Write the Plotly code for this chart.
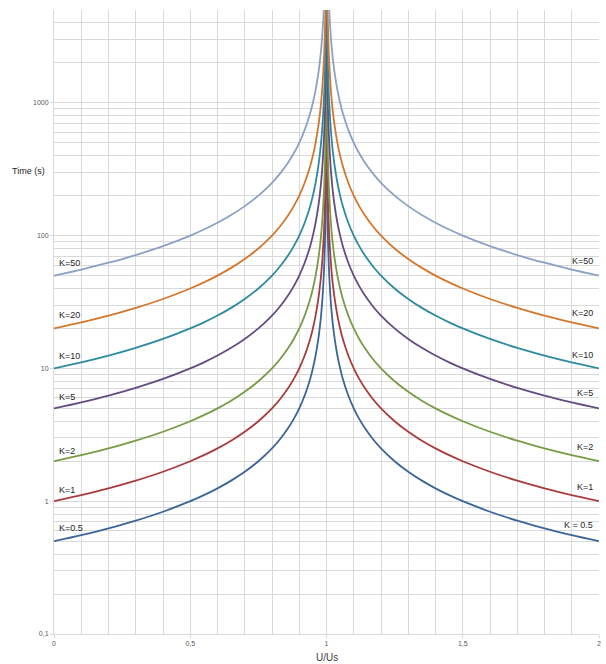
import plotly.graph_objects as go

# U/Us sample positions (left of the asymptote and right of it)
u_left = [0, 0.1, 0.2, 0.3, 0.4, 0.5, 0.55, 0.6, 0.65, 0.7, 0.75, 0.8, 0.83, 0.86, 0.88,
          0.9, 0.92, 0.94, 0.95, 0.96, 0.97, 0.975, 0.98, 0.985, 0.99, 0.993, 0.995,
          0.997, 0.998, 0.999, 0.9995, 0.9999]
u_right = [1.0001, 1.0005, 1.001, 1.002, 1.003, 1.005, 1.007, 1.01, 1.015, 1.02, 1.025,
           1.03, 1.04, 1.05, 1.06, 1.08, 1.1, 1.12, 1.14, 1.17, 1.2, 1.25, 1.3, 1.35,
           1.4, 1.45, 1.5, 1.6, 1.7, 1.8, 1.9, 2.0]

# Time (s) read for each curve on the left branch (the right branch mirrors it)
t_k05 = [0.5, 0.556, 0.625, 0.714, 0.833, 1, 1.111, 1.25, 1.429, 1.667, 2, 2.5, 2.941,
         3.571, 4.167, 5, 6.25, 8.333, 10, 12.5, 16.67, 20, 25, 33.33, 50, 71.43, 100,
         166.7, 250, 500, 1000, 5000]
t_k1 = [1, 1.111, 1.25, 1.429, 1.667, 2, 2.222, 2.5, 2.857, 3.333, 4, 5, 5.882, 7.143,
        8.333, 10, 12.5, 16.67, 20, 25, 33.33, 40, 50, 66.67, 100, 142.9, 200, 333.3,
        500, 1000, 2000, 10000]
t_k2 = [2, 2.222, 2.5, 2.857, 3.333, 4, 4.444, 5, 5.714, 6.667, 8, 10, 11.76, 14.29,
        16.67, 20, 25, 33.33, 40, 50, 66.67, 80, 100, 133.3, 200, 285.7, 400, 666.7,
        1000, 2000, 4000, 20000]
t_k5 = [5, 5.556, 6.25, 7.143, 8.333, 10, 11.11, 12.5, 14.29, 16.67, 20, 25, 29.41,
        35.71, 41.67, 50, 62.5, 83.33, 100, 125, 166.7, 200, 250, 333.3, 500, 714.3,
        1000, 1667, 2500, 5000, 10000, 50000]
t_k10 = [10, 11.11, 12.5, 14.29, 16.67, 20, 22.22, 25, 28.57, 33.33, 40, 50, 58.82,
         71.43, 83.33, 100, 125, 166.7, 200, 250, 333.3, 400, 500, 666.7, 1000, 1429,
         2000, 3333, 5000, 10000, 20000, 100000]
t_k20 = [20, 22.22, 25, 28.57, 33.33, 40, 44.44, 50, 57.14, 66.67, 80, 100, 117.6,
         142.9, 166.7, 200, 250, 333.3, 400, 500, 666.7, 800, 1000, 1333, 2000, 2857,
         4000, 6667, 10000, 20000, 40000, 200000]
t_k50 = [50, 55.56, 62.5, 71.43, 83.33, 100, 111.1, 125, 142.9, 166.7, 200, 250, 294.1,
         357.1, 416.7, 500, 625, 833.3, 1000, 1250, 1667, 2000, 2500, 3333, 5000, 7143,
         10000, 16667, 25000, 50000, 100000, 500000]

curve_names = ["K=0.5", "K=1", "K=2", "K=5", "K=10", "K=20", "K=50"]
curve_values = [t_k05, t_k1, t_k2, t_k5, t_k10, t_k20, t_k50]
curve_colors = ["#3b6599", "#a83c3b", "#789b45", "#644b82", "#2d8aa0", "#d4772c", "#8ba1c6"]

left_labels = ["K=0.5", "K=1", "K=2", "K=5", "K=10", "K=20", "K=50"]
left_label_pos = [-0.202, 0.085, 0.379, 0.785, 1.094, 1.403, 1.795]
right_labels = ["K = 0.5", "K=1", "K=2", "K=5", "K=10", "K=20", "K=50"]
right_label_pos = [-0.179, 0.107, 0.409, 0.815, 1.102, 1.418, 1.810]

x_tickvals = [0, 0.5, 1, 1.5, 2]
x_ticktext = ["0", "0,5", "1", "1,5", "2"]
y_tickvals = [0.1, 1, 10, 100, 1000]
y_ticktext = ["0,1", "1", "10", "100", "1000"]
y_minor = [m * d for d in [0.1, 1, 10, 100, 1000] for m in range(2, 10) if m * d <= 5000]

fig = go.Figure()
for name, vals, col in zip(curve_names, curve_values, curve_colors):
    for xs, ys in ((u_left, vals), (u_right, vals[::-1])):
        fig.add_trace(go.Scatter(x=xs, y=ys, mode="lines", name=name, showlegend=False,
                                 line=dict(color=col, width=1.8, shape="spline", smoothing=0.8),
                                 hoverinfo="skip"))

grid = "#d9d9d9"
font_fam = "Liberation Sans, Arial, sans-serif"

fig.update_layout(
    width=606, height=664,
    margin=dict(l=54, r=5, t=10, b=30),
    paper_bgcolor="white", plot_bgcolor="white",
    font=dict(family=font_fam, color="#262626"),
    xaxis=dict(range=[0, 2], tickvals=x_tickvals, ticktext=x_ticktext,
               showgrid=True, gridcolor=grid, gridwidth=1,
               minor=dict(dtick=0.1, showgrid=True, gridcolor=grid, gridwidth=1, ticks=""),
               ticks="outside", ticklen=3, tickcolor=grid,
               tickfont=dict(size=7, color="#595959"),
               zeroline=False, showline=True, linecolor=grid, mirror=False),
    yaxis=dict(type="log", range=[-1, 3.69897], tickvals=y_tickvals, ticktext=y_ticktext,
               showgrid=True, gridcolor=grid, gridwidth=1,
               minor=dict(tickvals=y_minor, showgrid=True, gridcolor=grid, gridwidth=1, ticks=""),
               ticks="outside", ticklen=3, tickcolor=grid,
               tickfont=dict(size=7, color="#595959"),
               zeroline=False, showline=True, linecolor=grid),
)

annotations = []
for txt, pos in zip(left_labels, left_label_pos):
    annotations.append(dict(x=0, y=pos, xref="x", yref="y", text=txt, showarrow=False,
                            xanchor="left", yanchor="middle", xshift=3,
                            font=dict(size=9, color="#262626")))
for txt, pos in zip(right_labels, right_label_pos):
    annotations.append(dict(x=2, y=pos, xref="x", yref="y", text=txt, showarrow=False,
                            xanchor="right", yanchor="middle", xshift=-4,
                            font=dict(size=9, color="#262626")))
annotations.append(dict(x=-0.0475, y=0.742, xref="paper", yref="paper", text="Time (s)",
                        showarrow=False, xanchor="center", yanchor="middle",
                        font=dict(size=9, color="#262626")))
annotations.append(dict(x=0.5, y=-0.037, xref="paper", yref="paper", text="U/Us",
                        showarrow=False, xanchor="center", yanchor="middle",
                        font=dict(size=10, color="#404040")))
fig.update_layout(annotations=annotations)

fig.write_html("out.html", config={"displayModeBar": False},
               post_script="document.body.style.margin='0';document.body.style.overflow='hidden';")
